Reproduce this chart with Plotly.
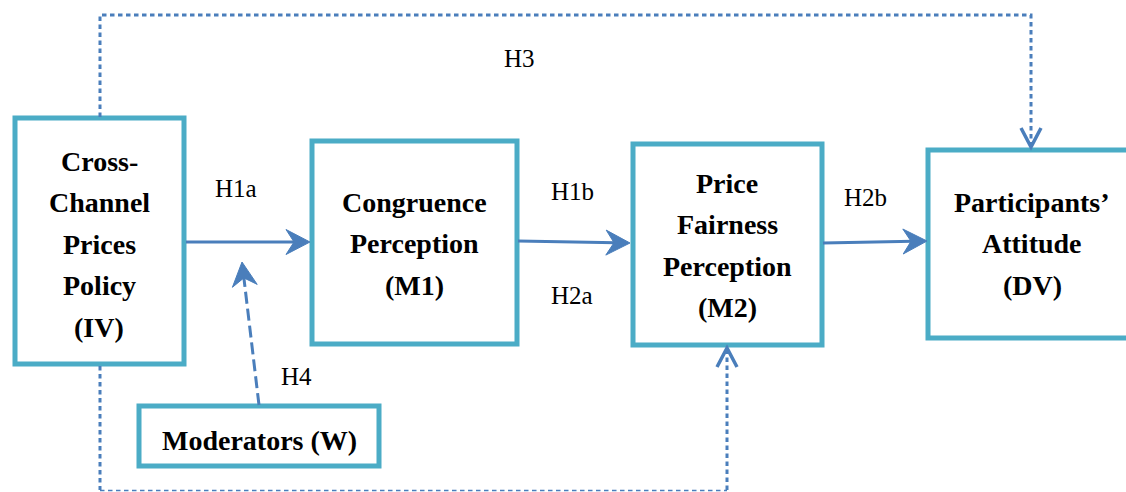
import math
import plotly.graph_objects as go

# ---- diagram content ----
node_ids = ["IV", "M1", "M2", "DV", "W"]
node_lines = [
    ["Cross-", "Channel", "Prices", "Policy", "(IV)"],
    ["Congruence", "Perception", "(M1)"],
    ["Price", "Fairness", "Perception", "(M2)"],
    ["Participants’", "Attitude", "(DV)"],
    ["Moderators (W)"],
]
hyp_labels = ["H1a", "H1b", "H2a", "H2b", "H3", "H4"]

# ---- layout geometry (pixel space) ----
W_PX, H_PX = 1126, 492
BOX_COLOR = "#4BACC6"
ARROW_COLOR = "#4A7EBB"
SERIF = "Liberation Serif"

box_rect = {
    "IV": (15, 118, 184, 364),
    "M1": (312, 141, 517, 344),
    "M2": (633, 144, 822, 345),
    "DV": (928, 150, 1145, 338),
    "W": (139, 406, 379, 466),
}
text_x = {"IV": 99, "M1": 414, "M2": 727, "DV": 1032, "W": 259}
text_y0 = {"IV": 161, "M1": 202, "M2": 183, "DV": 202, "W": 440}
LINE_STEP = 41.5

hyp_pos = {
    "H1a": (236, 188), "H1b": (572, 191), "H2a": (572, 295),
    "H2b": (865, 197), "H3": (519, 58), "H4": (296, 376),
}

shapes = []
annotations = []

# boxes
for nid in node_ids:
    x0, y0, x1, y1 = box_rect[nid]
    shapes.append(dict(type="rect", x0=x0, y0=y0, x1=x1, y1=y1, xref="x", yref="y",
                       line=dict(color=BOX_COLOR, width=5), fillcolor="rgba(0,0,0,0)",
                       layer="above"))

# box texts
for nid, lines in zip(node_ids, node_lines):
    for i, t in enumerate(lines):
        annotations.append(dict(x=text_x[nid], y=text_y0[nid] + i * LINE_STEP, xref="x", yref="y",
                                text="<b>%s</b>" % t, showarrow=False,
                                xanchor="center", yanchor="middle",
                                font=dict(family=SERIF, size=28, color="black")))

# hypothesis labels
for h in hyp_labels:
    x, y = hyp_pos[h]
    annotations.append(dict(x=x, y=y, xref="x", yref="y", text=h, showarrow=False,
                            xanchor="center", yanchor="middle",
                            font=dict(family=SERIF, size=25, color="black")))


def stealth_head(tip, frm, L=24, Wd=12.5, notch=8):
    dx, dy = tip[0] - frm[0], tip[1] - frm[1]
    n = math.hypot(dx, dy)
    ux, uy = dx / n, dy / n
    px, py = -uy, ux
    bx, by = tip[0] - L * ux, tip[1] - L * uy
    nx, ny = tip[0] - (L - notch) * ux, tip[1] - (L - notch) * uy
    p = "M %.1f,%.1f L %.1f,%.1f L %.1f,%.1f L %.1f,%.1f Z" % (
        tip[0], tip[1], bx + Wd * px, by + Wd * py, nx, ny, bx - Wd * px, by - Wd * py)
    return dict(type="path", path=p, xref="x", yref="y", fillcolor=ARROW_COLOR,
                line=dict(color=ARROW_COLOR, width=1))


def solid_arrow(frm, tip, dash="solid"):
    dx, dy = tip[0] - frm[0], tip[1] - frm[1]
    n = math.hypot(dx, dy)
    end = (tip[0] - 14 * dx / n, tip[1] - 14 * dy / n)
    shapes.append(dict(type="line", x0=frm[0], y0=frm[1], x1=end[0], y1=end[1],
                       xref="x", yref="y", line=dict(color=ARROW_COLOR, width=3, dash=dash)))
    shapes.append(stealth_head(tip, frm))


def chevron(tip, direction, arm_dx=10, arm_dy=19):
    # direction: +1 pointing down, -1 pointing up
    p = "M %.1f,%.1f L %.1f,%.1f L %.1f,%.1f" % (
        tip[0] - arm_dx, tip[1] - direction * arm_dy, tip[0], tip[1],
        tip[0] + arm_dx, tip[1] - direction * arm_dy)
    shapes.append(dict(type="path", path=p, xref="x", yref="y",
                       line=dict(color=ARROW_COLOR, width=3.5)))


# H1a, H1b, H2b solid arrows
solid_arrow((186, 242), (310, 242))
solid_arrow((518, 241), (630, 243))
solid_arrow((823, 243), (927, 241))
# H4 dashed arrow
solid_arrow((259, 405), (242, 262), dash="12px,5px")

# H3 dotted path
shapes.append(dict(type="path", path="M 100,117 L 100,15 L 1031,15 L 1031,145",
                   xref="x", yref="y", line=dict(color=ARROW_COLOR, width=3, dash="4.5px,3.5px")))
chevron((1031, 147), +1)

# bottom dotted path (IV -> M2)
shapes.append(dict(type="path", path="M 100,366 L 100,490",
                   xref="x", yref="y", line=dict(color=ARROW_COLOR, width=3, dash="4.5px,3.5px")))
shapes.append(dict(type="path", path="M 100,490.5 L 727,490.5",
                   xref="x", yref="y", line=dict(color=ARROW_COLOR, width=1.7, dash="4.5px,3.5px")))
shapes.append(dict(type="path", path="M 727,490 L 727,350",
                   xref="x", yref="y", line=dict(color=ARROW_COLOR, width=3, dash="4.5px,3.5px")))
chevron((727, 348), -1)

fig = go.Figure()
fig.add_trace(go.Scatter(x=[0, W_PX], y=[0, H_PX], mode="markers",
                         marker=dict(opacity=0), hoverinfo="skip", showlegend=False))
fig.update_layout(
    width=W_PX, height=H_PX,
    margin=dict(l=0, r=0, t=0, b=0),
    paper_bgcolor="white", plot_bgcolor="white",
    xaxis=dict(range=[0, W_PX], visible=False, fixedrange=True),
    yaxis=dict(range=[H_PX, 0], visible=False, fixedrange=True),
    shapes=shapes, annotations=annotations, showlegend=False,
)
fig.write_html("out.html", config={"displayModeBar": False},
               post_script="document.body.style.margin='0';document.body.style.overflow='hidden';")
